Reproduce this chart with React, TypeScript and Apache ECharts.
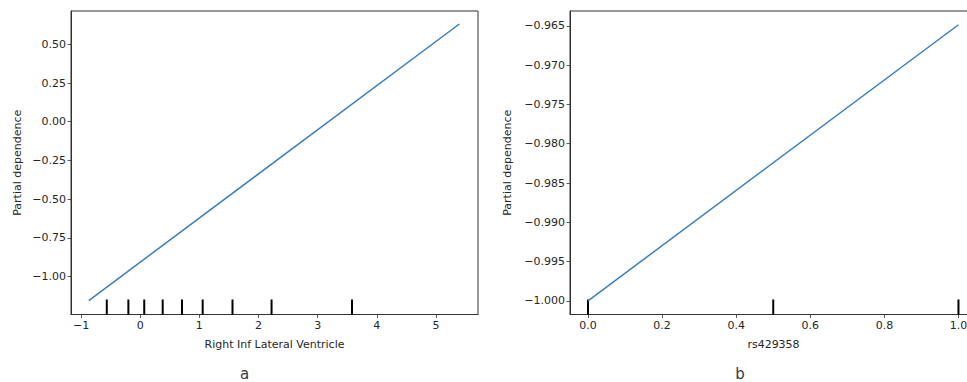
import React, { useEffect, useRef } from "react";
import * as echarts from "echarts";

// Panel a: Right Inf Lateral Ventricle
const aLine: [number, number][] = [
  [-0.87, -1.155],
  [5.395, 0.631],
];
const aRug = [-0.565, -0.2, 0.068, 0.38, 0.706, 1.056, 1.56, 2.22, 3.58];
const aXTicks = [-1, 0, 1, 2, 3, 4, 5];
const aYTicks = [-1.0, -0.75, -0.5, -0.25, 0.0, 0.25, 0.5];

// Panel b: rs429358
const bLine: [number, number][] = [
  [0, -1.0],
  [1, -0.96485],
];
const bRug = [0, 0.5, 1.0];
const bXTicks = [0, 0.2, 0.4, 0.6, 0.8, 1.0];
const bYTicks = [-1.0, -0.995, -0.99, -0.985, -0.98, -0.975, -0.97, -0.965];

const FONT = "DejaVu Sans";
const TXT = "#262626";
const FS = 11;
const minus = (s: string) => s.replace("-", "\u2212");

export default function App() {
  const ref = useRef<HTMLDivElement>(null);
  useEffect(() => {
    if (!ref.current) return;
    const chart = echarts.init(ref.current, null, { renderer: "svg" });

    const axisCommon = (ticks: number[], dec: number) => ({
      splitLine: { show: false },
      axisLine: { show: true, onZero: false, lineStyle: { color: "#333", width: 1 } },
      axisTick: { show: true, length: 3.5, lineStyle: { color: "#333", width: 0.8 }, customValues: ticks },
      axisLabel: {
        customValues: ticks,
        fontFamily: FONT,
        fontSize: FS,
        color: TXT,
        margin: 5,
        formatter: (v: number) => minus(v.toFixed(dec)),
      },
    });

    const mkX = (gi: number, min: number, max: number, ticks: number[], dec: number, name: string, gap: number) => ({
      type: "value",
      gridIndex: gi,
      min,
      max,
      name,
      nameLocation: "middle",
      nameGap: gap,
      nameTextStyle: { fontFamily: FONT, fontSize: FS, color: TXT },
      ...axisCommon(ticks, dec),
    });
    const mkY = (gi: number, min: number, max: number, ticks: number[], dec: number, gap: number) => ({
      type: "value",
      gridIndex: gi,
      min,
      max,
      name: "Partial dependence",
      nameLocation: "middle",
      nameGap: gap,
      nameTextStyle: { fontFamily: FONT, fontSize: FS, color: TXT },
      ...axisCommon(ticks, dec),
    });

    const rugSeries = (gi: number, xs: number[], yMin: number) => ({
      type: "custom",
      xAxisIndex: gi,
      yAxisIndex: gi,
      data: xs.map((x) => [x, yMin]),
      clip: false,
      renderItem: (params: any, api: any) => {
        const p = api.coord([api.value(0), api.value(1)]);
        return {
          type: "line",
          shape: { x1: p[0], y1: p[1], x2: p[0], y2: p[1] - 15 },
          style: { stroke: "#000", lineWidth: 2 },
        };
      },
    });

    const aYMin = -1.245;
    const bYMin = -1.00174;

    chart.setOption({
      animation: false,
      grid: [
        { left: 71, top: 11, width: 407, height: 303.5, show: true, borderColor: "#333", borderWidth: 1, backgroundColor: "transparent", outerBoundsMode: "none", containLabel: false },
        { left: 570, top: 11, width: 407, height: 303.5, show: true, borderColor: "#333", borderWidth: 1, backgroundColor: "transparent", outerBoundsMode: "none", containLabel: false },
      ],
      xAxis: [
        mkX(0, -1.17, 5.71, aXTicks, 0, "Right Inf Lateral Ventricle", 24),
        mkX(1, -0.0486, 1.05, bXTicks, 1, "rs429358", 24),
      ],
      yAxis: [mkY(0, aYMin, 0.715, aYTicks, 2, 48), mkY(1, bYMin, -0.9631, bYTicks, 3, 57)],
      series: [
        {
          type: "line",
          xAxisIndex: 0,
          yAxisIndex: 0,
          data: aLine,
          showSymbol: false,
          symbol: "none",
          lineStyle: { color: "#3a7ebf", width: 1.5 },
        },
        {
          type: "line",
          xAxisIndex: 1,
          yAxisIndex: 1,
          data: bLine,
          showSymbol: false,
          symbol: "none",
          lineStyle: { color: "#3a7ebf", width: 1.5 },
        },
        rugSeries(0, aRug, aYMin),
        rugSeries(1, bRug, bYMin),
      ],
      graphic: [
        { type: "text", x: 244.5, y: 381.5, style: { text: "a", fontFamily: FONT, fontSize: 15, fill: "#3a3a3a", align: "center", verticalAlign: "bottom" } },
        { type: "text", x: 740, y: 381.5, style: { text: "b", fontFamily: FONT, fontSize: 15, fill: "#3a3a3a", align: "center", verticalAlign: "bottom" } },
      ],
    });
    return () => chart.dispose();
  }, []);

  return (
    <div
      ref={ref}
      style={{ position: "fixed", left: 0, top: 0, width: 967, height: 382, background: "#fff" }}
    />
  );
}
